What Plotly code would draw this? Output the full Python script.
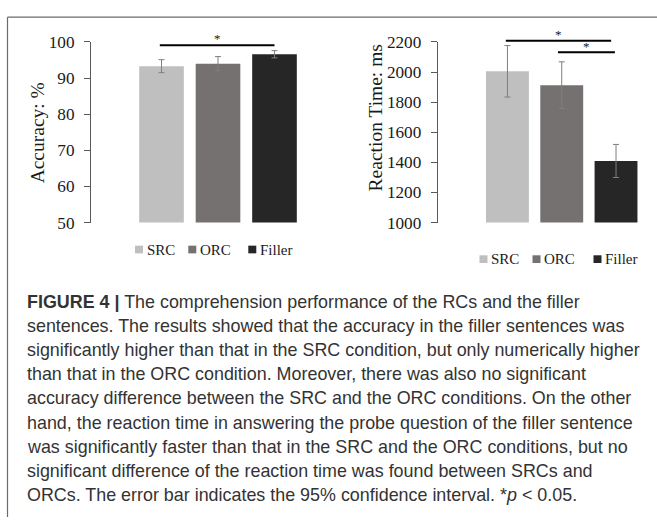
import plotly.graph_objects as go

W, H = 657, 527

# ---------------- data ----------------
conditions = ["SRC", "ORC", "Filler"]
bar_colors = ["#BFBFBF", "#767171", "#262626"]

accuracy = [93.3, 94.0, 96.6]
accuracy_ci = [1.8, 1.95, 1.0]
acc_ticks = [50, 60, 70, 80, 90, 100]

rt = [2005, 1913, 1409]
rt_ci = [171, 155, 110]
rt_ticks = [1000, 1200, 1400, 1600, 1800, 2000, 2200]

caption_lines = [
    "<b>FIGURE 4 |</b> The comprehension performance of the RCs and the filler",
    "sentences. The results showed that the accuracy in the filler sentences was",
    "significantly higher than that in the SRC condition, but only numerically higher",
    "than that in the ORC condition. Moreover, there was also no significant",
    "accuracy difference between the SRC and the ORC conditions. On the other",
    "hand, the reaction time in answering the probe question of the filler sentence",
    "was significantly faster than that in the SRC and the ORC conditions, but no",
    "significant difference of the reaction time was found between SRCs and",
    "ORCs. The error bar indicates the 95% confidence interval. *<i>p</i> &lt; 0.05.",
]


def px(x):
    return x / W


def py(y):
    return 1 - y / H


SERIF = "Liberation Serif, Times New Roman, serif"
SANS = "Liberation Sans, Arial, sans-serif"

fig = go.Figure()

for i, c in enumerate(conditions):
    fig.add_trace(go.Bar(
        x=[c], y=[accuracy[i]], width=0.79, marker=dict(color=bar_colors[i], line=dict(width=0)),
        error_y=dict(type="data", array=[accuracy_ci[i]], color="#7F7F7F", thickness=1, width=3),
        xaxis="x", yaxis="y", showlegend=False, name=c))
    fig.add_trace(go.Bar(
        x=[c], y=[rt[i]], width=0.79, marker=dict(color=bar_colors[i], line=dict(width=0)),
        error_y=dict(type="data", array=[rt_ci[i]], color="#7F7F7F", thickness=1, width=3),
        xaxis="x2", yaxis="y2", showlegend=False, name=c))

ydom = [py(221.5), py(34.2)]
common_y = dict(showgrid=False, zeroline=False, showline=True, linecolor="#595959", linewidth=1,
                ticks="outside", ticklen=6, tickcolor="#595959", ticklabelstandoff=6,
                tickfont=dict(family=SERIF, size=17.2, color="#1a1a1a"))
common_x = dict(type="category", categoryorder="array", categoryarray=conditions,
                showgrid=False, zeroline=False, showline=False, showticklabels=False, ticks="")

fig.update_layout(
    width=W, height=H, margin=dict(l=0, r=0, t=0, b=0),
    paper_bgcolor="white", plot_bgcolor="white",
    barmode="overlay", showlegend=False,
    xaxis=dict(domain=[px(91), px(345)], range=[-1.248, 3.248], **common_x),
    yaxis=dict(domain=ydom, range=[50, 100], tickvals=acc_ticks, **common_y),
    xaxis2=dict(domain=[px(437.7), 1], range=[-1.285, 2.755], anchor="y2", **common_x),
    yaxis2=dict(domain=ydom, range=[1000, 2200], tickvals=rt_ticks, anchor="x2", **common_y),
)

shapes = []
annotations = []

# frame (left and top edges of the figure box)
shapes.append(dict(type="line", xref="paper", yref="paper", x0=px(7.5), x1=px(7.5), y0=0, y1=py(8.5),
                   line=dict(color="#6b6b6b", width=1.2)))
shapes.append(dict(type="line", xref="paper", yref="paper", x0=px(7.5), x1=1, y0=py(8.5), y1=py(8.5),
                   line=dict(color="#6b6b6b", width=1.2)))

# significance brackets: (xref, yref, from, to, x offsets, line y (domain frac), star y)
sig = [
    ("x", "y domain", "SRC", "Filler", (-0.03, 0.0), 0.982, 1.020),
    ("x2", "y2 domain", "SRC", "Filler", (-0.03, -0.09), 1.007, 1.040),
    ("x2", "y2 domain", "ORC", "Filler", (-0.07, -0.02), 0.943, 0.976),
]
for xr, yr, a, b, (da, db), ly, sy in sig:
    x0 = conditions.index(a) + da
    x1 = conditions.index(b) + db
    shapes.append(dict(type="line", xref=xr, yref=yr, x0=x0, x1=x1, y0=ly, y1=ly,
                       line=dict(color="black", width=2)))
    annotations.append(dict(xref=xr, yref=yr, x=(x0 + x1) / 2, y=sy, text="*", showarrow=False,
                            xanchor="center", yanchor="middle",
                            font=dict(family=SERIF, size=13, color="#1a1a1a")))

# axis titles
annotations.append(dict(xref="paper", yref="paper", x=px(37.5), y=py(128.5), text="Accuracy: %",
                        textangle=-90, showarrow=False, xanchor="center", yanchor="middle",
                        font=dict(family=SERIF, size=19.5, color="#1a1a1a")))
annotations.append(dict(xref="paper", yref="paper", x=px(375.5), y=py(113), text="Reaction Time: ms",
                        textangle=-90, showarrow=False, xanchor="center", yanchor="middle",
                        font=dict(family=SERIF, size=19.5, color="#1a1a1a")))

# legends (swatch + label)
legend_rows = [
    (249.5, [135, 188.3, 248.3]),
    (259.5, [479.5, 532.5, 593.5]),
]
for ly, xs in legend_rows:
    for c, col, lx in zip(conditions, bar_colors, xs):
        shapes.append(dict(type="rect", xref="paper", yref="paper", x0=px(lx), x1=px(lx + 8),
                           y0=py(ly + 4), y1=py(ly - 4), fillcolor=col, line=dict(width=0)))
        annotations.append(dict(xref="paper", yref="paper", x=px(lx + 9.5), y=py(ly), text=c,
                                xanchor="left", yanchor="middle", showarrow=False,
                                font=dict(family=SERIF, size=15, color="#1a1a1a")))

# caption
for k, line in enumerate(caption_lines):
    annotations.append(dict(xref="paper", yref="paper", x=px(24.5), y=py(304 + 25.0 * k), text=line,
                            xanchor="left", yanchor="middle", showarrow=False, align="left",
                            font=dict(family=SANS, size=17.9, color="#333333")))

fig.update_layout(shapes=shapes, annotations=annotations)
fig.write_html("out.html")
